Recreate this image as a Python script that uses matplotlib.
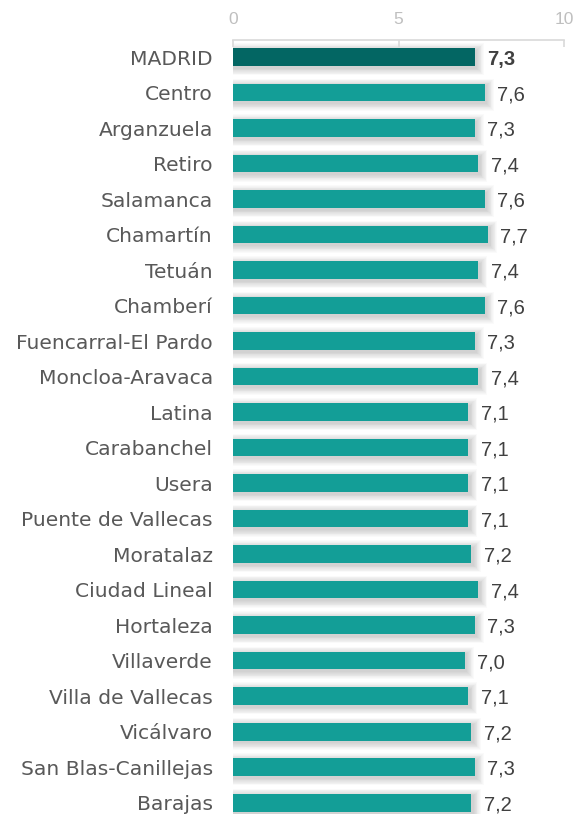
import matplotlib
matplotlib.use("Agg")
import matplotlib.pyplot as plt
import numpy as np

categories = ["MADRID", "Centro", "Arganzuela", "Retiro", "Salamanca", "Chamartín",
              "Tetuán", "Chamberí", "Fuencarral-El Pardo", "Moncloa-Aravaca", "Latina",
              "Carabanchel", "Usera", "Puente de Vallecas", "Moratalaz", "Ciudad Lineal",
              "Hortaleza", "Villaverde", "Villa de Vallecas", "Vicálvaro",
              "San Blas-Canillejas", "Barajas"]
values = [7.3, 7.6, 7.3, 7.4, 7.6, 7.7, 7.4, 7.6, 7.3, 7.4, 7.1, 7.1, 7.1, 7.1,
          7.2, 7.4, 7.3, 7.0, 7.1, 7.2, 7.3, 7.2]
xticks = [0, 5, 10]

fig = plt.figure(figsize=(5.75, 8.14), dpi=100)
ax = fig.add_axes([233/575, 0.0, (564-233)/575, 1 - 40/814])

y = np.arange(len(categories))
h = 0.5
colors = ["#036663" if i == 0 else "#139e97" for i in range(len(categories))]

# soft shadow (offset down-right, blurred)
for i, v in enumerate(values):
    for k in range(9):
        g = 0.022 * (k + 1)
        ax.add_patch(plt.Rectangle((0, y[i] - h/2 + 0.06 - g), v + 0.06 + g * 1.1,
                                   h + 2*g, color="#000000", alpha=0.018, lw=0,
                                   zorder=1))

ax.barh(y, values, height=h, color=colors, zorder=3)

for i, v in enumerate(values):
    ax.text(v + 0.38, y[i] + 0.06, f"{v:.1f}".replace(".", ","), va="center", ha="left",
            fontsize=14.5, fontfamily="Liberation Sans",
            fontweight="bold" if i == 0 else "normal",
            color="#404040", zorder=4)

ax.set_xlim(0, 10)
ax.set_ylim(len(categories) - 0.68, -0.48)
ax.set_yticks(y)
ax.set_yticklabels(categories, fontsize=14.6, fontfamily="DejaVu Sans", color="#595959")
ax.tick_params(axis="y", length=0, pad=14.5)
ax.xaxis.tick_top()
ax.set_xticks(xticks)
ax.set_xticklabels([str(t) for t in xticks], fontsize=12.5, color="#bfbfbf",
                   fontfamily="Liberation Sans")
ax.tick_params(axis="x", direction="in", length=5, color="#d9d9d9", width=1.2, pad=9)
for s in ["right", "bottom", "left"]:
    ax.spines[s].set_visible(False)
ax.spines["top"].set_color("#d9d9d9")
ax.spines["top"].set_linewidth(1.2)

fig.savefig("out.png", dpi=100)
